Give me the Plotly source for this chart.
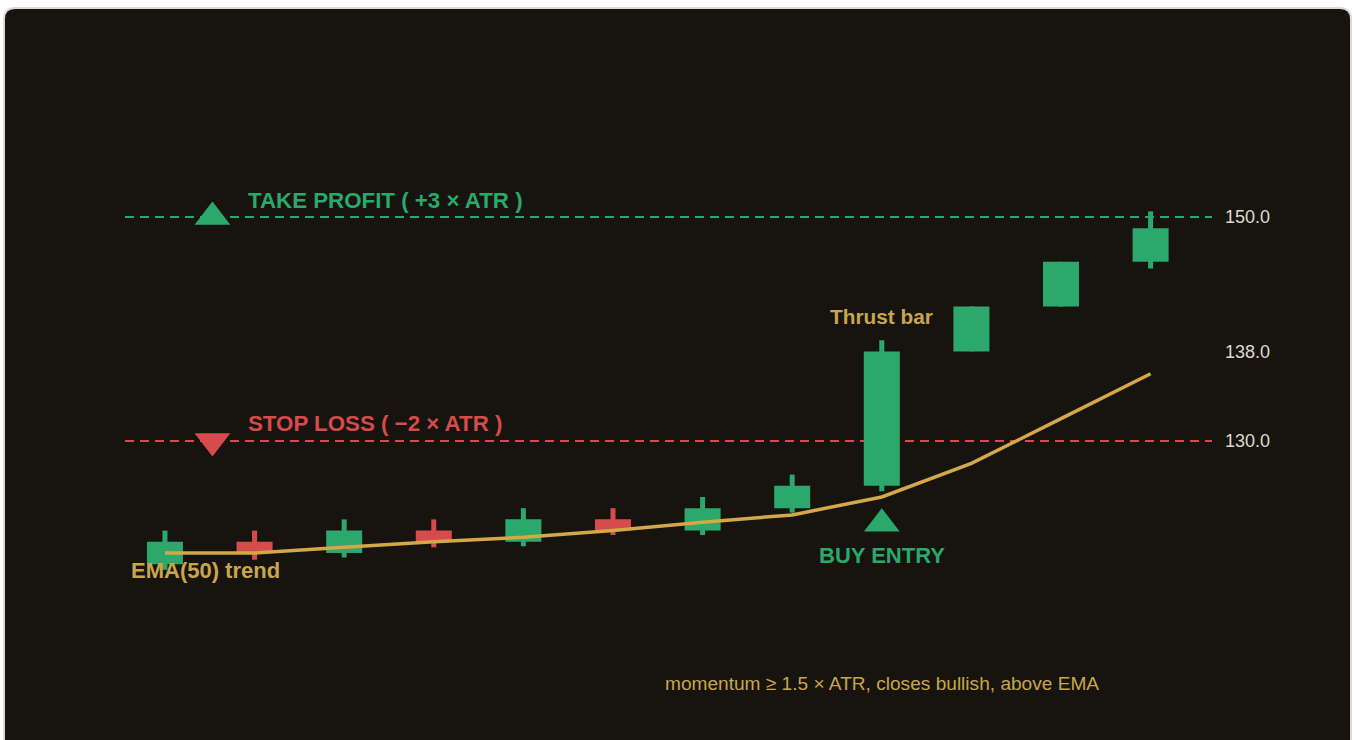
import plotly.graph_objects as go

# ---------------- data ----------------
bar_index = list(range(12))
opens  = [119, 121, 120, 122, 121, 123, 122, 124, 126, 138, 142, 146]
closes = [121, 120, 122, 121, 123, 122, 124, 126, 138, 142, 146, 149]
highs  = [122, 122, 123, 123, 124, 124, 125, 127, 139, 142, 146, 150.5]
lows   = [118.5, 119.4, 119.6, 120.5, 120.6, 121.6, 121.6, 123.6, 125.5, 138, 142, 145.4]
ema50  = [120, 120, 120.5, 121, 121.4, 122, 122.75, 123.4, 125, 128, 132, 136]

take_profit = 150.0
stop_loss = 130.0
level_marker_x = 0.53
thrust_bar = 8
entry_marker_y = 122.6
tick_values = [130.0, 138.0, 150.0]
tick_labels = ["130.0", "138.0", "150.0"]

# ---------------- style ----------------
W, H = 1356, 740
BG = "#17140f"
GREEN = "#2ca86c"
RED = "#d64b4b"
GOLD = "#d2a848"
GOLD_TXT = "#c9a64c"
TICK = "#ddd9d0"
FONT = "Arial, Liberation Sans, sans-serif"

colors = [GREEN if c >= o else RED for o, c in zip(opens, closes)]

fig = go.Figure()

# EMA line (behind candles)
fig.add_trace(go.Scatter(
    x=bar_index, y=ema50, mode="lines",
    line=dict(color=GOLD, width=3.5), showlegend=False, hoverinfo="skip"))

# wicks
fig.add_trace(go.Bar(
    x=bar_index, base=lows, y=[h - l for h, l in zip(highs, lows)],
    width=0.056, marker=dict(color=colors, line=dict(width=0)),
    opacity=1, showlegend=False, hoverinfo="skip"))
# bodies
fig.add_trace(go.Bar(
    x=bar_index, base=[min(o, c) for o, c in zip(opens, closes)],
    y=[abs(c - o) for o, c in zip(opens, closes)],
    width=0.402, marker=dict(color=colors, line=dict(width=0)),
    opacity=1, showlegend=False, hoverinfo="skip"))

# level markers
fig.add_trace(go.Scatter(
    x=[level_marker_x], y=[take_profit], mode="markers",
    marker=dict(symbol="triangle-up", size=31, color=GREEN),
    showlegend=False, cliponaxis=False, hoverinfo="skip"))
fig.add_trace(go.Scatter(
    x=[level_marker_x], y=[stop_loss], mode="markers",
    marker=dict(symbol="triangle-down", size=31, color=RED),
    showlegend=False, cliponaxis=False, hoverinfo="skip"))
fig.add_trace(go.Scatter(
    x=[bar_index[thrust_bar]], y=[entry_marker_y], mode="markers",
    marker=dict(symbol="triangle-up", size=31, color=GREEN),
    showlegend=False, cliponaxis=False, hoverinfo="skip"))

# panel frame (rounded card) -- drawn first so everything sits on top
def px(x):
    return x / W
def py(y):
    return 1 - y / H
x0f, x1f, y0f, ybf, r = 4, 1351, 8, 780, 11
path = (f"M {px(x0f)},{py(ybf)} L {px(x0f)},{py(y0f + r)} "
        f"Q {px(x0f)},{py(y0f)} {px(x0f + r)},{py(y0f)} "
        f"L {px(x1f - r)},{py(y0f)} Q {px(x1f)},{py(y0f)} {px(x1f)},{py(y0f + r)} "
        f"L {px(x1f)},{py(ybf)} Z")
fig.add_shape(type="path", xref="paper", yref="paper", path=path,
              fillcolor=BG, line=dict(color="#dedad2", width=2), layer="below")

# dashed levels
for lvl, col in [(take_profit, GREEN), (stop_loss, RED)]:
    fig.add_shape(type="line", xref="x domain", x0=0, x1=1, yref="y", y0=lvl, y1=lvl,
                  line=dict(color=col, width=2.2, dash="9px,6px"), layer="below")

# annotations
def ann(text, x, y, size, color, bold=True, xanchor="center", xshift=0, yshift=0,
        xref="x", yref="y"):
    fig.add_annotation(text=text, x=x, y=y, xref=xref, yref=yref, showarrow=False,
                       xanchor=xanchor, yanchor="middle", xshift=xshift, yshift=yshift,
                       font=dict(family=FONT, size=size, color=color,
                                 weight=700 if bold else 400))

ann("TAKE PROFIT ( +3 × ATR )", level_marker_x, take_profit, 22.3, GREEN,
    xanchor="left", xshift=34, yshift=16)
ann("STOP LOSS ( −2 × ATR )", level_marker_x, stop_loss, 22.3, RED,
    xanchor="left", xshift=34, yshift=17)
ann("EMA(50) trend", bar_index[0], ema50[0], 22, GOLD_TXT,
    xanchor="left", xshift=-36, yshift=-18)
ann("Thrust bar", bar_index[thrust_bar], highs[thrust_bar], 20.8, GOLD_TXT, yshift=24)
ann("BUY ENTRY", bar_index[thrust_bar], entry_marker_y, 22, GREEN, yshift=-32)
ann("momentum ≥ 1.5 × ATR, closes bullish, above EMA", bar_index[thrust_bar], 1 - 683 / H,
    19.1, GOLD_TXT, bold=False, yref="paper")

fig.update_layout(
    width=W, height=H, autosize=False,
    margin=dict(l=0, r=0, t=0, b=0),
    paper_bgcolor="#ffffff", plot_bgcolor="rgba(0,0,0,0)",
    barmode="overlay", showlegend=False,
    xaxis=dict(domain=[125 / W, 1212 / W], range=[-0.446, 11.685], visible=False,
               fixedrange=True),
    yaxis=dict(domain=[0, 1], range=[103.30, 169.375], side="right",
               tickvals=tick_values, ticktext=tick_labels, ticks="",
               ticklabelstandoff=12, showgrid=False, zeroline=False, showline=False,
               tickfont=dict(family=FONT, size=18, color=TICK), fixedrange=True),
)

fig.write_html("out.html", post_script="document.body.style.margin='0';document.body.style.overflow='hidden';",
               config={"displayModeBar": False})
